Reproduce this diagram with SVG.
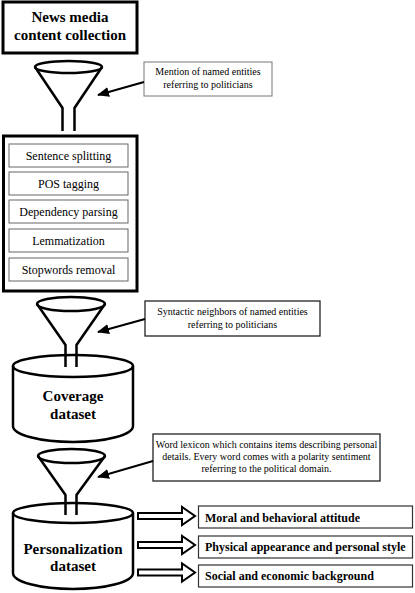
<svg xmlns="http://www.w3.org/2000/svg" width="415" height="593" viewBox="0 0 415 593">
<defs>
<style>
.thick{fill:#fff;stroke:#000;stroke-width:3}
.fn{fill:none;stroke:#000;stroke-width:2.5;stroke-linejoin:miter}
.inner{fill:#fff;stroke:#666;stroke-width:1}
.call{fill:#fff;stroke:#222;stroke-width:1.3}
.call1{fill:#fff;stroke:#777;stroke-width:1}
.lbl{fill:#fff;stroke:#333;stroke-width:1.2}
.ln{stroke:#000;stroke-width:2;fill:none}
.blk{fill:#fff;stroke:#000;stroke-width:2;stroke-linejoin:miter}
.cyl{fill:#fff;stroke:#000;stroke-width:2.5}
text{font-family:'Liberation Serif','Times New Roman','DejaVu Serif',serif}
.tb{font-weight:bold;font-size:15px;text-anchor:middle}
.tn{font-size:12px;text-anchor:middle}
.ts{font-size:10px;text-anchor:middle}
.tl{font-weight:bold;font-size:12px}
</style>
<marker id="ah" markerWidth="12" markerHeight="10" refX="11" refY="5" orient="auto" markerUnits="userSpaceOnUse">
<path d="M0,0 L12,5 L0,10 Z" fill="#000"/>
</marker>
</defs>

<g id="news">
<rect class="thick" x="3" y="2" width="134" height="51"/>
<text class="tb" x="70" y="22">News media</text>
<text class="tb" x="70" y="40">content collection</text>
</g>

<g id="funnel1">
<ellipse class="fn" cx="68.5" cy="67" rx="33.5" ry="6"/>
<path class="fn" d="M35,67 L62.5,108 L62.5,131 M102,67 L74.5,108 L74.5,131"/>
</g>

<g id="callout1">
<rect class="call1" x="144" y="62" width="128" height="34"/>
<text class="ts" x="208" y="75">Mention of named entities</text>
<text class="ts" x="208" y="88">referring to politicians</text>
</g>

<g id="processing">
<rect class="thick" x="3.5" y="136" width="133.5" height="155"/>
<rect class="inner" x="9" y="144" width="119" height="23"/>
<text class="tn" x="68.5" y="160">Sentence splitting</text>
<rect class="inner" x="9" y="172" width="119" height="23"/>
<text class="tn" x="68.5" y="188">POS tagging</text>
<rect class="inner" x="9" y="200" width="119" height="23"/>
<text class="tn" x="68.5" y="216">Dependency parsing</text>
<rect class="inner" x="9" y="229" width="119" height="23"/>
<text class="tn" x="68.5" y="245">Lemmatization</text>
<rect class="inner" x="9" y="258" width="119" height="23"/>
<text class="tn" x="68.5" y="274">Stopwords removal</text>
</g>

<g id="funnel2">
<ellipse class="fn" cx="71" cy="304" rx="34" ry="7"/>
<path class="fn" d="M37,304 L65.5,345 L65.5,367 M105,304 L76.5,345 L76.5,367"/>
</g>

<g id="callout2">
<rect class="call" x="145" y="301" width="175" height="35"/>
<text class="ts" x="232.5" y="315">Syntactic neighbors of named entities</text>
<text class="ts" x="232.5" y="328">referring to politicians</text>
</g>

<g id="coverage">
<path class="cyl" d="M13,366 A60,11 0 0 1 133,366 L133,426 A60,16 0 0 1 13,426 Z"/>
<path class="fn" d="M13,366 A60,11 0 0 0 133,366"/>
<path class="fn" d="M65.5,355 L65.5,367 M76.5,355 L76.5,367"/>
<text class="tb" x="73" y="401">Coverage</text>
<text class="tb" x="73" y="419">dataset</text>
</g>

<g id="funnel3">
<ellipse class="fn" cx="71.5" cy="456" rx="33.5" ry="7"/>
<path class="fn" d="M38,456 L65.5,495 L65.5,515 M105,456 L76.5,495 L76.5,515"/>
</g>

<g id="callout3">
<rect class="call" x="153" y="434" width="227" height="47"/>
<text class="ts" x="266.5" y="448">Word lexicon which contains items describing personal</text>
<text class="ts" x="266.5" y="460">details. Every word comes with a polarity sentiment</text>
<text class="ts" x="266.5" y="472">referring to the political domain.</text>
</g>

<g id="personalization">
<path class="cyl" d="M13,513 A60,10 0 0 1 133,513 L133,573 A60,16 0 0 1 13,573 Z"/>
<path class="fn" d="M13,513 A60,10 0 0 0 133,513"/>
<path class="fn" d="M65.5,503 L65.5,515 M76.5,503 L76.5,515"/>
<text class="tb" x="73" y="554">Personalization</text>
<text class="tb" x="73" y="571">dataset</text>
</g>

<g id="label1">
<rect class="lbl" x="198.5" y="506" width="214" height="22"/>
<text class="tl" x="205" y="521.5">Moral and behavioral attitude</text>
</g>
<g id="label2">
<rect class="lbl" x="198.5" y="536" width="214" height="22"/>
<text class="tl" x="205" y="551">Physical appearance and personal style</text>
</g>
<g id="label3">
<rect class="lbl" x="198.5" y="565" width="214" height="22"/>
<text class="tl" x="205" y="580">Social and economic background</text>
</g>

<g id="connectors">
<line class="ln" x1="144" y1="82" x2="98" y2="95" marker-end="url(#ah)"/>
<line class="ln" x1="145" y1="319" x2="98" y2="332" marker-end="url(#ah)"/>
<line class="ln" x1="153" y1="461" x2="98" y2="477" marker-end="url(#ah)"/>
<path class="blk" d="M138,513 L182,513 L182,507 L195,516 L182,525 L182,519 L138,519 Z"/>
<path class="blk" d="M138,542 L182,542 L182,536 L195,545 L182,554 L182,548 L138,548 Z"/>
<path class="blk" d="M138,569.5 L182,569.5 L182,563.5 L195,572.5 L182,581.5 L182,575.5 L138,575.5 Z"/>
</g>
</svg>
